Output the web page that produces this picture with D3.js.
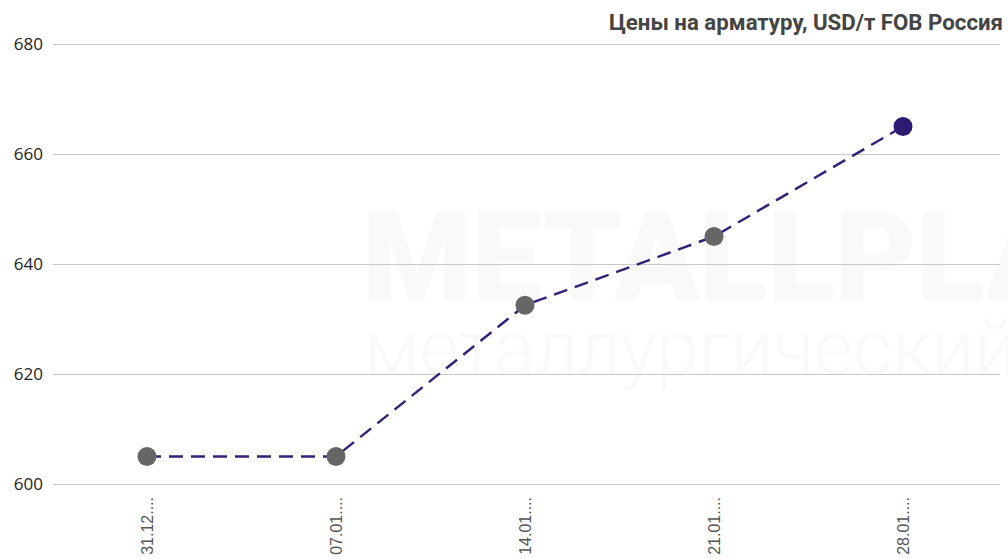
<!DOCTYPE html>
<html>
<head>
<meta charset="utf-8">
<script src="https://cdn.jsdelivr.net/npm/d3@7/dist/d3.min.js"></script>
<style>
  body { margin: 0; background: #fff; }
  svg { display: block; }
</style>
</head>
<body>
<svg width="1008" height="559"></svg>
<script>
var dates = ['31.12....', '07.01....', '14.01....', '21.01....', '28.01....'];
var prices = [605, 605, 632.5, 645, 665];
var yTicks = [600, 620, 640, 660, 680];
var title = 'Цены на арматуру, USD/т FOB Россия';

var svg = d3.select('svg');
var width = +svg.attr('width');
var height = +svg.attr('height');

var x = d3.scalePoint()
    .domain(dates)
    .range([147, 903])
;

var y = d3.scaleLinear()
    .domain([600, 680])
    .range([484, 44])
;

// faint watermark
var wm = svg.append('g').attr('fill', '#f9f9f9');
wm.append('text')
    .attr('x', 362)
    .attr('y', 300)
    .attr('font-family', 'Roboto, sans-serif')
    .attr('font-weight', 900)
    .attr('font-size', 125)
    .text('METALLPLANT')
;
wm.append('text')
    .attr('x', 364)
    .attr('y', 374)
    .attr('font-family', 'Roboto, sans-serif')
    .attr('font-weight', 300)
    .attr('font-size', 76)
    .text('металлургический')
;

// grid + y labels
var grid = svg.append('g')
    .attr('transform', 'translate(53,0)')
    .call(d3.axisLeft(y)
        .tickValues(yTicks)
        .tickSize(-947)
        .tickPadding(10)
    )
;
grid.select('.domain').remove();
grid.selectAll('.tick line')
    .attr('stroke', '#c8c8c8')
    .attr('stroke-width', 1.2)
;
grid.selectAll('.tick text')
    .attr('font-family', '"Open Sans", sans-serif')
    .attr('font-size', 17)
    .attr('fill', '#222')
;

// x labels
svg.append('g')
    .selectAll('text')
    .data(dates)
    .enter()
    .append('text')
        .attr('transform', function (d) {
            return 'translate(' + (x(d) + 6) + ',497) rotate(-90)';
        })
        .attr('text-anchor', 'end')
        .attr('font-family', '"Liberation Sans", Arial, sans-serif')
        .attr('font-size', 16)
        .attr('fill', '#555')
        .text(function (d) { return d; })
;

// line
var line = d3.line()
    .x(function (d, i) { return x(dates[i]); })
    .y(function (d) { return y(d); })
;

svg.append('path')
    .datum(prices)
    .attr('d', line)
    .attr('fill', 'none')
    .attr('stroke', '#35207a')
    .attr('stroke-width', 2.5)
    .attr('stroke-dasharray', '14,8')
;

svg.selectAll('.dot')
    .data(prices)
    .enter()
    .append('circle')
        .attr('class', 'dot')
        .attr('cx', function (d, i) { return x(dates[i]); })
        .attr('cy', function (d) { return y(d); })
        .attr('r', 9.5)
        .attr('fill', function (d, i) {
            return i === prices.length - 1 ? '#2e1a72' : '#666666';
        })
;

// title
svg.append('text')
    .attr('x', 1003)
    .attr('y', 30)
    .attr('text-anchor', 'end')
    .attr('font-family', 'Roboto, sans-serif')
    .attr('font-weight', 'bold')
    .attr('font-size', 21.5)
    .attr('textLength', 394)
    .attr('lengthAdjust', 'spacingAndGlyphs')
    .attr('fill', '#444')
    .text(title)
;
</script>
</body>
</html>
